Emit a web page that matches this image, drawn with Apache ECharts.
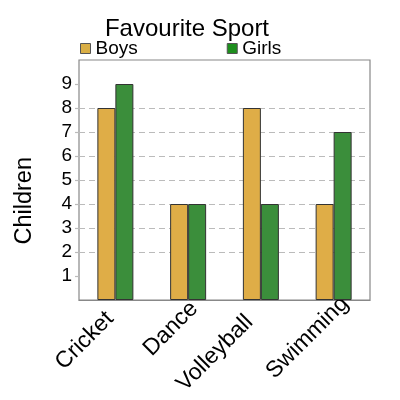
<!DOCTYPE html>
<html>
<head>
<meta charset="utf-8">
<script src="https://cdn.jsdelivr.net/npm/echarts@6/dist/echarts.min.js"></script>
<style>
  html, body { margin: 0; padding: 0; background: #fff; }
  #chart { width: 400px; height: 400px; }
</style>
</head>
<body>
<div id="chart"></div>
<script>
"use strict";
// data
var sports = ['Cricket', 'Dance', 'Volleyball', 'Swimming'];
var boys = [8, 4, 8, 4];
var girls = [9, 4, 4, 7];
var yTicks = [1, 2, 3, 4, 5, 6, 7, 8, 9];

var myChart = echarts.init(document.getElementById('chart'));
var font = 'Liberation Sans, Arial, sans-serif';

// the rotated category labels in the original are not all placed the same way,
// so each one gets its own padding [top, right, bottom, left]
var labelPad = [[14, 101, 0, 0], [16, 65, 0, 0], [10, 140, 0, 0], [16, 90, 0, 0]];
var rich = {};
labelPad.forEach(function (p, i) {
    rich['l' + i] = { fontFamily: font, fontSize: 23, color: '#000', padding: p };
});

var option = {
    animation: false,
    title: {
        text: 'Favourite Sport',
        left: 182,
        textAlign: 'center',
        top: 12,
        textStyle: { fontFamily: font, fontSize: 24, fontWeight: 'normal', color: '#000' }
    },
    legend: {
        left: 80,
        top: 39,
        padding: 0,
        itemWidth: 10,
        itemHeight: 10,
        itemGap: 89,
        icon: 'rect',
        data: [
            { name: 'Boys', itemStyle: { color: '#D9AE45', borderColor: '#555', borderWidth: 1 } },
            { name: 'Girls', itemStyle: { color: '#1E8F1E', borderColor: '#555', borderWidth: 1 } }
        ],
        textStyle: { fontFamily: font, fontSize: 19, color: '#000' }
    },
    // y axis title sits a bit below the plot middle in the original
    graphic: [{
        type: 'text',
        left: 13,
        top: 157,
        rotation: Math.PI / 2,
        style: { text: 'Children', font: '23.5px ' + font, fill: '#000' }
    }],
    grid: { left: 79, right: 30, top: 60, bottom: 100, show: true, borderColor: '#888', borderWidth: 1.2 },
    xAxis: {
        type: 'category',
        data: sports,
        axisTick: { show: false },
        axisLine: { lineStyle: { color: '#888', width: 1.2 } },
        axisLabel: {
            rotate: 45,
            align: 'center',
            verticalAlign: 'middle',
            margin: 0,
            interval: 0,
            formatter: function (v, i) { return '{l' + i + '|' + v + '}'; },
            rich: rich
        }
    },
    yAxis: {
        type: 'value',
        min: 0,
        max: 10,
        interval: 1,
        axisLine: { show: false },
        axisTick: {
            show: true,
            length: 4,
            customValues: yTicks,
            lineStyle: { color: '#bbb', width: 1.2 }
        },
        axisLabel: {
            fontFamily: font,
            fontSize: 19,
            color: '#000',
            margin: 7,
            customValues: yTicks
        },
        splitLine: {
            lineStyle: { color: '#bbb', type: [6, 4], width: 1.2 },
            showMinLine: false,
            showMaxLine: false
        }
    },
    series: [
        {
            name: 'Boys',
            type: 'bar',
            data: boys,
            barWidth: 18,
            barGap: '0%',
            itemStyle: { color: '#DFAD47', borderColor: '#333', borderWidth: 1 }
        },
        {
            name: 'Girls',
            type: 'bar',
            data: girls,
            barWidth: 18,
            barGap: '0%',
            itemStyle: { color: '#3B8E3B', borderColor: '#333', borderWidth: 1 }
        }
    ]
};

myChart.setOption(option);
</script>
</body>
</html>
